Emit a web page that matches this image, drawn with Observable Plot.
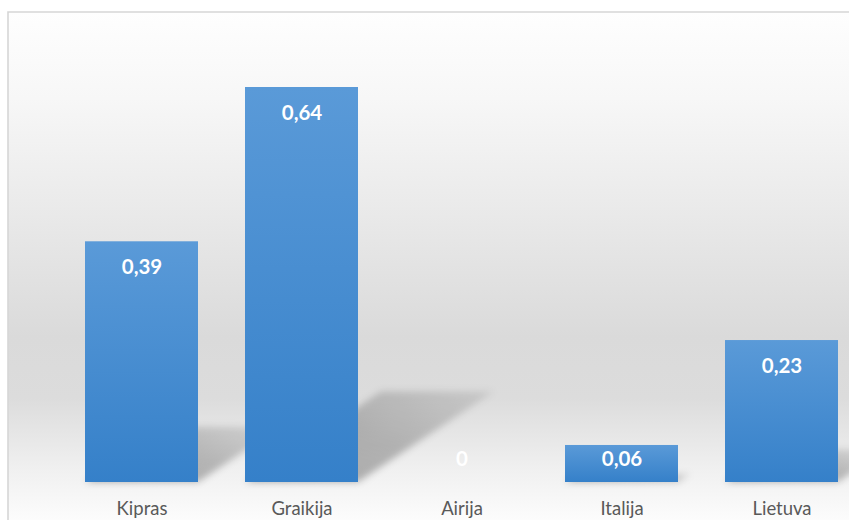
<!DOCTYPE html>
<html>
<head>
<meta charset="utf-8">
<script src="https://cdn.jsdelivr.net/npm/d3@7"></script>
<script src="https://cdn.jsdelivr.net/npm/@observablehq/plot@0.6"></script>
<style>
  html, body { margin: 0; padding: 0; background: #ffffff; }
  #chart svg { display: block; }
</style>
</head>
<body>
<div id="chart"></div>
<script>
// ---- data ----
const categories = ["Kipras", "Graikija", "Airija", "Italija", "Lietuva"];
const values = [0.39, 0.64, 0, 0.06, 0.23];
const valueLabels = ["0,39", "0,64", "0", "0,06", "0,23"];

const data = categories.map((c, i) => ({category: c, value: values[i], label: valueLabels[i]}));

function findArgs(args) {
  const scales = args.find(a => a && typeof a === "object" && typeof a.x === "function");
  const dims = args.find(a => a && typeof a === "object" && "marginLeft" in a && "width" in a);
  return {scales, dims};
}

// gradients & filters
function defsMark() {
  const g = d3.create("svg:g");
  const defs = g.append("defs");
  const bg = defs.append("linearGradient").attr("id", "bgGrad").attr("x1", 0).attr("y1", 0).attr("x2", 0).attr("y2", 1);
  [[0, "#fefefe"], [0.17, "#f7f7f7"], [0.37, "#ebebeb"], [0.64, "#dadada"], [0.76, "#dcdcdc"], [0.9, "#f0f0f0"], [1, "#fcfcfc"]]
    .forEach(([o, c]) => bg.append("stop").attr("offset", o).attr("stop-color", c));
  const bar = defs.append("linearGradient").attr("id", "barGrad").attr("x1", 0).attr("y1", 0).attr("x2", 0).attr("y2", 1);
  [[0, "#5a9ad8"], [1, "#3580c9"]].forEach(([o, c]) => bar.append("stop").attr("offset", o).attr("stop-color", c));
  const sh = defs.append("linearGradient").attr("id", "shGrad").attr("x1", 0).attr("y1", 1).attr("x2", 1).attr("y2", 0);
  [[0, "#000", 0.32], [0.5, "#000", 0.24], [1, "#000", 0.08]].forEach(([o, c, a]) =>
    sh.append("stop").attr("offset", o).attr("stop-color", c).attr("stop-opacity", a));
  const f = defs.append("filter").attr("id", "shBlur").attr("x", "-20%").attr("y", "-20%").attr("width", "140%").attr("height", "140%");
  f.append("feGaussianBlur").attr("stdDeviation", 3.5);
  return g.node();
}

function backgroundMark(...args) {
  const {dims} = findArgs(args);
  const g = d3.create("svg:g");
  const x0 = dims.marginLeft, y0 = dims.marginTop;
  g.append("rect").attr("x", x0).attr("y", y0)
    .attr("width", dims.width - x0).attr("height", dims.height - y0)
    .attr("fill", "url(#bgGrad)");
  g.append("path")
    .attr("d", `M${x0},${dims.height}V${y0}H${dims.width}`)
    .attr("fill", "none").attr("stroke", "#d6d6d6").attr("stroke-width", 1.6);
  return g.node();
}

function shadowMark(...args) {
  const {scales} = findArgs(args);
  const g = d3.create("svg:g").attr("filter", "url(#shBlur)");
  const bw = scales.x.bandwidth();
  const base = scales.y(0);
  for (const d of data) {
    if (!(d.value > 0)) continue;
    const x0 = scales.x(d.category), x1 = x0 + bw;
    const h = base - scales.y(d.value);
    const s = 0.23 * h, dx = 1.5 * s;
    g.append("path")
      .attr("d", `M${x0},${base}L${x1},${base}L${x1 + dx},${base - s}L${x0 + dx},${base - s}Z`)
      .attr("fill", "url(#shGrad)");
  }
  return g.node();
}

const chart = Plot.plot({
  width: 849,
  height: 520,
  marginLeft: 8,
  marginTop: 12,
  marginRight: 0,
  marginBottom: 0,
  style: {background: "transparent", fontFamily: "Lato, 'Open Sans', sans-serif", overflow: "hidden"},
  x: {domain: categories, range: [60.35, 861.85], paddingInner: 0.295, paddingOuter: 0.1475, label: null},
  y: {domain: [0, 0.64], range: [482, 87], axis: null},
  marks: [
    defsMark,
    backgroundMark,
    shadowMark,
    Plot.barY(data, {x: "category", y: "value", fill: "url(#barGrad)"}),
    Plot.text(data.filter(d => d.value >= 0.1), {
      x: "category", y: "value", text: "label", dy: 26,
      fill: "white", fontWeight: "bold", fontSize: 20.5
    }),
    Plot.text(data.filter(d => d.value < 0.1), {
      x: "category", y: 0, text: "label", dy: -23,
      fill: "white", fontWeight: "bold", fontSize: 20.5
    }),
    Plot.axisX({tickSize: 0, tickPadding: 0, dy: -19, fontSize: 18.5, color: "#595959", label: null})
  ]
});

document.getElementById("chart").appendChild(chart);
</script>
</body>
</html>
